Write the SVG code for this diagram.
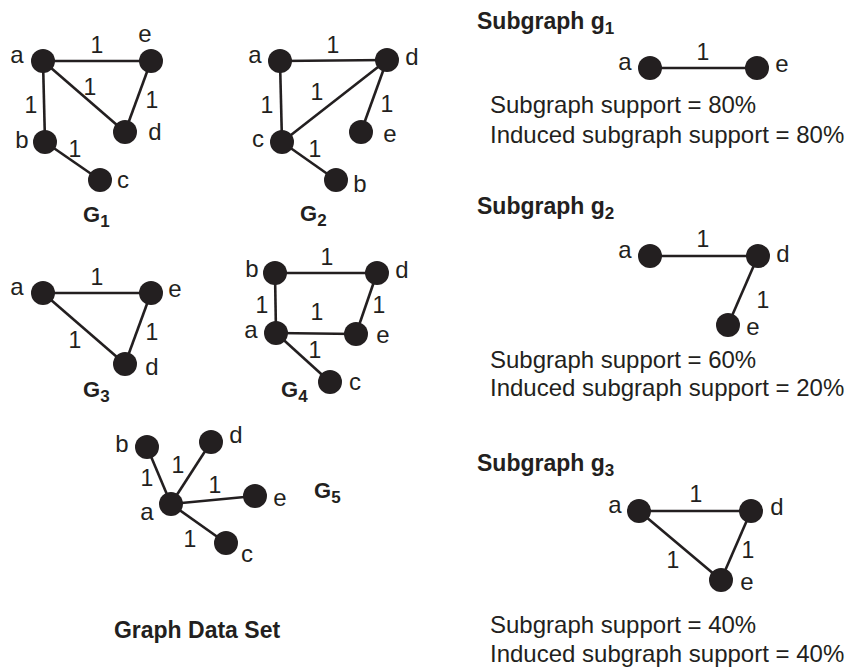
<svg xmlns="http://www.w3.org/2000/svg" width="848" height="670" viewBox="0 0 848 670">
<style>
text{font-family:"Liberation Sans",Arial,sans-serif;fill:#231f20}
.lb{font-size:24px;text-anchor:middle}
.el{font-size:23px;text-anchor:middle}
.t{font-size:24px}
.b{font-weight:bold;font-size:22px}
.hb{font-weight:bold;font-size:23px}
.sub{font-size:17px}
.n{fill:#231f20}
.e{stroke:#231f20;stroke-width:2.6;fill:none}
</style>
<rect width="848" height="670" fill="#fff"/>
<g id="connectors">
<line class="e" x1="43" y1="61" x2="151" y2="61"/>
<line class="e" x1="43" y1="61" x2="125" y2="132"/>
<line class="e" x1="43" y1="61" x2="45" y2="142"/>
<line class="e" x1="151" y1="61" x2="125" y2="132"/>
<line class="e" x1="45" y1="142" x2="100" y2="180"/>
<line class="e" x1="280" y1="61" x2="387" y2="60"/>
<line class="e" x1="280" y1="61" x2="282" y2="142"/>
<line class="e" x1="282" y1="142" x2="387" y2="60"/>
<line class="e" x1="387" y1="60" x2="361" y2="132"/>
<line class="e" x1="282" y1="142" x2="336" y2="180"/>
<line class="e" x1="43" y1="293" x2="151" y2="293"/>
<line class="e" x1="43" y1="293" x2="125" y2="364"/>
<line class="e" x1="151" y1="293" x2="125" y2="364"/>
<line class="e" x1="275" y1="273" x2="377" y2="273"/>
<line class="e" x1="275" y1="273" x2="276" y2="333"/>
<line class="e" x1="276" y1="333" x2="356" y2="334"/>
<line class="e" x1="377" y1="273" x2="356" y2="334"/>
<line class="e" x1="276" y1="333" x2="330" y2="382"/>
<line class="e" x1="171" y1="504" x2="147" y2="447"/>
<line class="e" x1="171" y1="504" x2="211" y2="442"/>
<line class="e" x1="171" y1="504" x2="255" y2="496"/>
<line class="e" x1="171" y1="504" x2="226" y2="543"/>
<line class="e" x1="650" y1="68" x2="757" y2="68"/>
<line class="e" x1="650" y1="256" x2="758" y2="256"/>
<line class="e" x1="758" y1="256" x2="728" y2="325"/>
<line class="e" x1="639" y1="511" x2="751" y2="511"/>
<line class="e" x1="639" y1="511" x2="721" y2="580"/>
<line class="e" x1="751" y1="511" x2="721" y2="580"/>
<text class="el" x="97" y="53">1</text>
<text class="el" x="90" y="95">1</text>
<text class="el" x="31" y="113">1</text>
<text class="el" x="152" y="108">1</text>
<text class="el" x="75" y="157">1</text>
<text class="el" x="333" y="53">1</text>
<text class="el" x="267" y="113">1</text>
<text class="el" x="317" y="100">1</text>
<text class="el" x="387" y="112">1</text>
<text class="el" x="315" y="157">1</text>
<text class="el" x="97" y="285">1</text>
<text class="el" x="75" y="348">1</text>
<text class="el" x="152" y="340">1</text>
<text class="el" x="327" y="265">1</text>
<text class="el" x="262" y="313">1</text>
<text class="el" x="317" y="320">1</text>
<text class="el" x="379" y="313">1</text>
<text class="el" x="315" y="358">1</text>
<text class="el" x="147" y="486">1</text>
<text class="el" x="178" y="473">1</text>
<text class="el" x="215" y="493">1</text>
<text class="el" x="190" y="547">1</text>
<text class="el" x="703" y="60">1</text>
<text class="el" x="703" y="247">1</text>
<text class="el" x="763" y="308">1</text>
<text class="el" x="696" y="502">1</text>
<text class="el" x="748" y="558">1</text>
<text class="el" x="673" y="568">1</text>
</g>
<g id="G1-a"><circle class="n" cx="43" cy="61" r="12"/><text class="lb" x="17" y="63">a</text></g>
<g id="G1-e"><circle class="n" cx="151" cy="61" r="12"/><text class="lb" x="145" y="42">e</text></g>
<g id="G1-d"><circle class="n" cx="125" cy="132" r="12"/><text class="lb" x="155" y="140">d</text></g>
<g id="G1-b"><circle class="n" cx="45" cy="142" r="12"/><text class="lb" x="22" y="148">b</text></g>
<g id="G1-c"><circle class="n" cx="100" cy="180" r="12"/><text class="lb" x="123" y="188">c</text></g>
<text class="b" x="83" y="222">G<tspan class="sub" dy="5">1</tspan></text>
<g id="G2-a"><circle class="n" cx="280" cy="61" r="12"/><text class="lb" x="255" y="63">a</text></g>
<g id="G2-d"><circle class="n" cx="387" cy="60" r="12"/><text class="lb" x="412" y="65">d</text></g>
<g id="G2-c"><circle class="n" cx="282" cy="142" r="12"/><text class="lb" x="258" y="147">c</text></g>
<g id="G2-e"><circle class="n" cx="361" cy="132" r="12"/><text class="lb" x="390" y="142">e</text></g>
<g id="G2-b"><circle class="n" cx="336" cy="180" r="12"/><text class="lb" x="360" y="192">b</text></g>
<text class="b" x="300" y="221">G<tspan class="sub" dy="5">2</tspan></text>
<g id="G3-a"><circle class="n" cx="43" cy="293" r="12"/><text class="lb" x="17" y="295">a</text></g>
<g id="G3-e"><circle class="n" cx="151" cy="293" r="12"/><text class="lb" x="175" y="297">e</text></g>
<g id="G3-d"><circle class="n" cx="125" cy="364" r="12"/><text class="lb" x="152" y="375">d</text></g>
<text class="b" x="83" y="397">G<tspan class="sub" dy="5">3</tspan></text>
<g id="G4-b"><circle class="n" cx="275" cy="273" r="12"/><text class="lb" x="252" y="277">b</text></g>
<g id="G4-d"><circle class="n" cx="377" cy="273" r="12"/><text class="lb" x="402" y="278">d</text></g>
<g id="G4-a"><circle class="n" cx="276" cy="333" r="12"/><text class="lb" x="251" y="338">a</text></g>
<g id="G4-e"><circle class="n" cx="356" cy="334" r="12"/><text class="lb" x="383" y="343">e</text></g>
<g id="G4-c"><circle class="n" cx="330" cy="382" r="12"/><text class="lb" x="355" y="390">c</text></g>
<text class="b" x="281" y="397">G<tspan class="sub" dy="5">4</tspan></text>
<g id="G5-b"><circle class="n" cx="147" cy="447" r="12"/><text class="lb" x="122" y="452">b</text></g>
<g id="G5-d"><circle class="n" cx="211" cy="442" r="12"/><text class="lb" x="236" y="443">d</text></g>
<g id="G5-a"><circle class="n" cx="171" cy="504" r="12"/><text class="lb" x="147" y="520">a</text></g>
<g id="G5-e"><circle class="n" cx="255" cy="496" r="12"/><text class="lb" x="280" y="506">e</text></g>
<g id="G5-c"><circle class="n" cx="226" cy="543" r="12"/><text class="lb" x="247" y="562">c</text></g>
<text class="b" x="314" y="498">G<tspan class="sub" dy="5">5</tspan></text>
<text class="hb" x="197" y="638" text-anchor="middle">Graph Data Set</text>
<text class="hb" x="477" y="29">Subgraph g<tspan class="sub" dy="5">1</tspan></text>
<g id="g1-a"><circle class="n" cx="650" cy="68" r="12"/><text class="lb" x="625" y="70">a</text></g>
<g id="g1-e"><circle class="n" cx="757" cy="68" r="12"/><text class="lb" x="782" y="72">e</text></g>
<text class="t" x="490" y="113">Subgraph support = 80%</text>
<text class="t" x="490" y="143">Induced subgraph support = 80%</text>
<text class="hb" x="477" y="214">Subgraph g<tspan class="sub" dy="5">2</tspan></text>
<g id="g2-a"><circle class="n" cx="650" cy="256" r="12"/><text class="lb" x="625" y="258">a</text></g>
<g id="g2-d"><circle class="n" cx="758" cy="256" r="12"/><text class="lb" x="783" y="262">d</text></g>
<g id="g2-e"><circle class="n" cx="728" cy="325" r="12"/><text class="lb" x="753" y="335">e</text></g>
<text class="t" x="490" y="368">Subgraph support = 60%</text>
<text class="t" x="490" y="396">Induced subgraph support = 20%</text>
<text class="hb" x="477" y="471">Subgraph g<tspan class="sub" dy="5">3</tspan></text>
<g id="g3-a"><circle class="n" cx="639" cy="511" r="12"/><text class="lb" x="615" y="513">a</text></g>
<g id="g3-d"><circle class="n" cx="751" cy="511" r="12"/><text class="lb" x="777" y="515">d</text></g>
<g id="g3-e"><circle class="n" cx="721" cy="580" r="12"/><text class="lb" x="747" y="590">e</text></g>
<text class="t" x="490" y="633">Subgraph support = 40%</text>
<text class="t" x="490" y="662">Induced subgraph support = 40%</text>
</svg>
